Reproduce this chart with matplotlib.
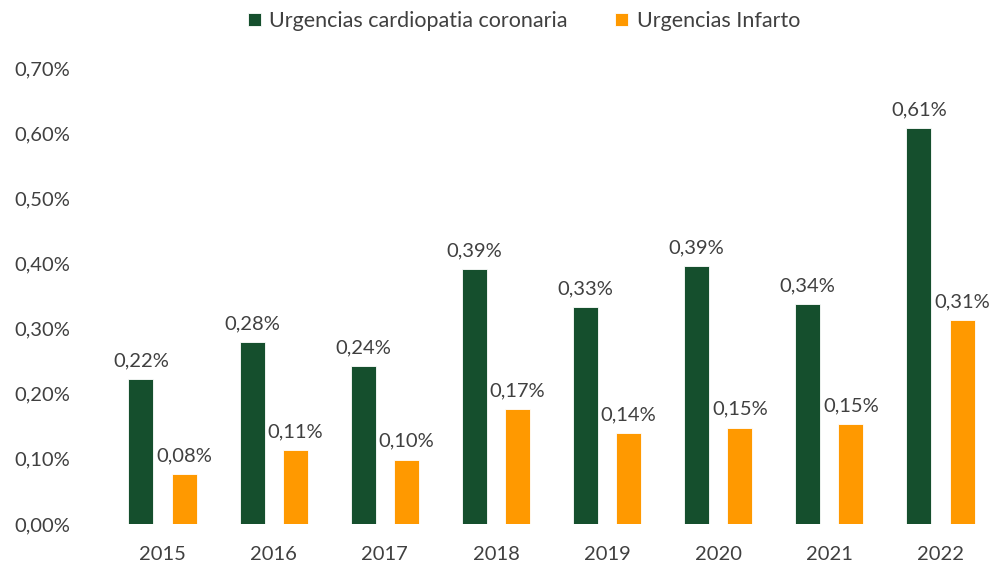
import matplotlib.pyplot as plt
import numpy as np
from matplotlib.ticker import FuncFormatter

plt.rcParams['font.family'] = ['Lato', 'DejaVu Sans']

years = ['2015', '2016', '2017', '2018', '2019', '2020', '2021', '2022']
coronaria = [0.223, 0.280, 0.242, 0.392, 0.333, 0.396, 0.338, 0.608]
infarto = [0.076, 0.113, 0.099, 0.177, 0.140, 0.148, 0.154, 0.313]
labels_cor = ['0,22%', '0,28%', '0,24%', '0,39%', '0,33%', '0,39%', '0,34%', '0,61%']
labels_inf = ['0,08%', '0,11%', '0,10%', '0,17%', '0,14%', '0,15%', '0,15%', '0,31%']

green = '#154f2d'
orange = '#ff9900'
txt = '#404040'

fig = plt.figure(figsize=(9.96, 5.66), dpi=100)
ax = fig.add_axes([107 / 996, 1 - 524 / 566, (996 - 107) / 996, (524 - 68) / 566])

x = np.arange(len(years))
w = 0.225
off = 0.195
b1 = ax.bar(x - off, coronaria, w, color=green, edgecolor='white', linewidth=0.6,
            label='Urgencias cardiopatia coronaria')
b2 = ax.bar(x + off, infarto, w, color=orange, edgecolor='white', linewidth=0.6,
            label='Urgencias Infarto')
ax.bar_label(b1, labels=labels_cor, padding=7, fontsize=14.5, color=txt)
ax.bar_label(b2, labels=labels_inf, padding=7, fontsize=14.5, color=txt)

ax.set_xlim(-0.5, len(years) - 0.5)
ax.set_ylim(0, 0.70)
ax.set_yticks(np.arange(0, 0.71, 0.1))
ax.yaxis.set_major_formatter(FuncFormatter(lambda v, p: f'{v:.2f}%'.replace('.', ',')))
ax.set_xticks(x)
ax.set_xticklabels(years)
ax.tick_params(axis='both', length=0, labelsize=14.5, colors=txt)
ax.tick_params(axis='x', pad=16)
for lab in ax.get_yticklabels():
    lab.set_horizontalalignment('left')
ax.tick_params(axis='y', pad=67)
for s in ax.spines.values():
    s.set_visible(False)

fig.legend(loc='center', bbox_to_anchor=(524 / 996, 1 - 21 / 566), ncol=2, frameon=False,
           fontsize=15.5, labelcolor=txt, handlelength=0.6, handleheight=0.6,
           handletextpad=0.4, columnspacing=2.2)

fig.savefig('out.png', dpi=100)
